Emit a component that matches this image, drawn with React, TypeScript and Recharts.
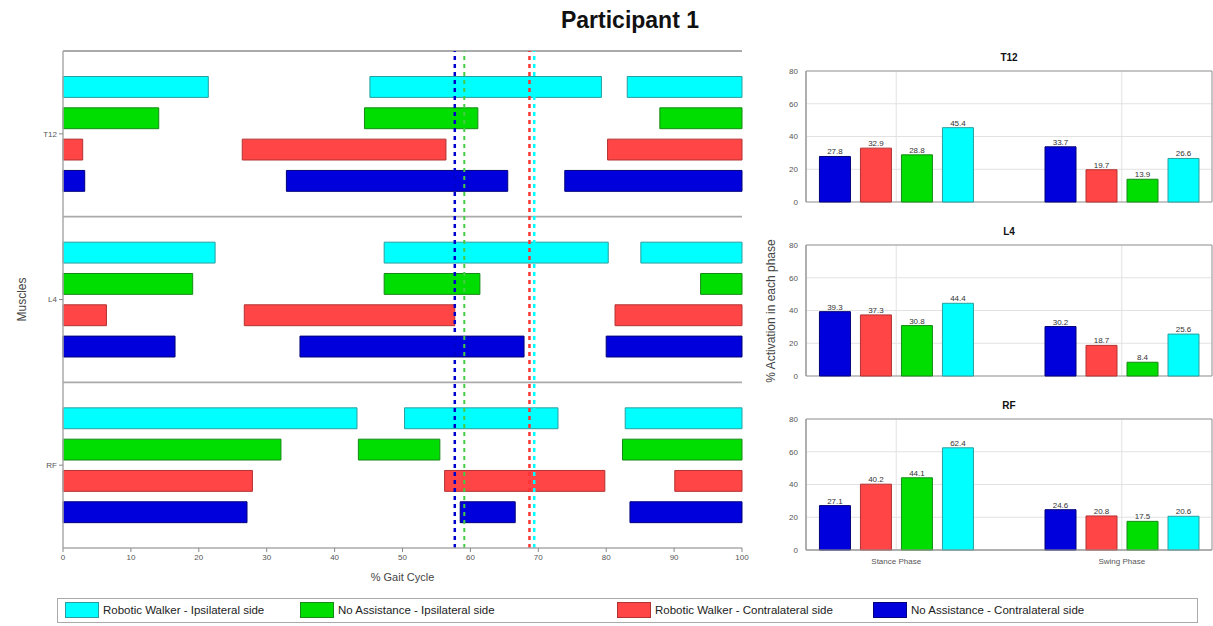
import React from 'react';
import {
  ComposedChart,
  BarChart,
  Bar,
  XAxis,
  YAxis,
  ReferenceArea,
  ReferenceLine,
  CartesianGrid,
  LabelList,
} from 'recharts';

// ---------- data ----------
const muscles = ['T12', 'L4', 'RF'];
const conditions = [
  'Robotic Walker - Ipsilateral side',
  'No Assistance - Ipsilateral side',
  'Robotic Walker - Contralateral side',
  'No Assistance - Contralateral side',
];
const phases = ['Stance Phase', 'Swing Phase'];
const gaitTicks = [0, 10, 20, 30, 40, 50, 60, 70, 80, 90, 100];
const activationTicks = [0, 20, 40, 60, 80];

// activation segments [start, end] in % gait cycle, per condition (order as `conditions`)
const t12Segments = [
  [[0, 21.4], [45.2, 79.3], [83.1, 100]],
  [[0, 14.1], [44.4, 61.1], [87.9, 100]],
  [[0, 2.9], [26.4, 56.4], [80.2, 100]],
  [[0, 3.2], [32.9, 65.5], [73.9, 100]],
];
const l4Segments = [
  [[0, 22.4], [47.3, 80.3], [85.1, 100]],
  [[0, 19.1], [47.3, 61.4], [93.9, 100]],
  [[0, 6.4], [26.7, 57.7], [81.3, 100]],
  [[0, 16.5], [34.9, 67.9], [80.0, 100]],
];
const rfSegments = [
  [[0, 43.3], [50.3, 72.9], [82.8, 100]],
  [[0, 32.1], [43.5, 55.5], [82.4, 100]],
  [[0, 27.9], [56.2, 79.8], [90.1, 100]],
  [[0, 27.1], [58.5, 66.6], [83.5, 100]],
];
// toe-off (stance/swing transition) per condition
const toeOff = [69.4, 59.1, 68.7, 57.7];

// % activation in each phase [stance, swing], per condition (order as `conditions`)
const t12Activation = [[45.4, 26.6], [28.8, 13.9], [32.9, 19.7], [27.8, 33.7]];
const l4Activation = [[44.4, 25.6], [30.8, 8.4], [37.3, 18.7], [39.3, 30.2]];
const rfActivation = [[62.4, 20.6], [44.1, 17.5], [40.2, 20.8], [27.1, 24.6]];

// ---------- styles ----------
const colors = ['#00ffff', '#00dd00', '#ff4545', '#0000dd'];
const lineColors = ['#00ffff', '#44cc44', '#ff3333', '#0000cc'];
const edges = ['#2a9e9e', '#168a16', '#b33232', '#00007a'];
const FONT = '"Liberation Sans", Arial, Helvetica, sans-serif';
const barOrder = [3, 2, 1, 0];

const allSegments = [t12Segments, l4Segments, rfSegments];

// row layout inside each muscle band (band = 1 y-unit)
const ROW_START = 0.217;
const ROW_STEP = 0.189;
const ROW_HALF = 0.063;

function rowCenter(m: number, c: number) {
  return 3 - m - (ROW_START + ROW_STEP * c);
}

function GaitChart() {
  const areas: React.ReactNode[] = [];
  allSegments.forEach((segs, m) => {
    segs.forEach((list, c) => {
      list.forEach((s, k) => {
        const yc = rowCenter(m, c);
        areas.push(
          <ReferenceArea
            key={`a-${m}-${c}-${k}`}
            x1={s[0]}
            x2={s[1]}
            y1={yc - ROW_HALF}
            y2={yc + ROW_HALF}
            fill={colors[c]}
            fillOpacity={1}
            stroke={edges[c]}
            strokeWidth={1}
            ifOverflow="visible"
          />
        );
      });
    });
  });
  const tickPos = muscles.map((_, m) => 2.5 - m);
  return (
    <ComposedChart
      width={760}
      height={600}
      data={[{ x: 0, y: 0 }]}
      margin={{ top: 51, right: 18, bottom: 22, left: 0 }}
    >
      <XAxis
        type="number"
        dataKey="x"
        domain={[0, 100]}
        ticks={gaitTicks}
        height={30}
        tick={{ fontSize: 8, fill: '#555', fontFamily: FONT }}
        tickSize={4}
        tickLine={{ stroke: '#888' }}
        axisLine={{ stroke: '#aaa', strokeWidth: 1.5 }}
        interval={0}
      />
      <YAxis
        type="number"
        dataKey="y"
        domain={[0, 3]}
        ticks={tickPos}
        width={63}
        tickFormatter={(v: number) => muscles[Math.round(2.5 - v)]}
        tick={{ fontSize: 8, fill: '#555', fontFamily: FONT }}
        tickSize={4}
        tickLine={{ stroke: '#888' }}
        axisLine={{ stroke: '#aaa', strokeWidth: 1.5 }}
        interval={0}
        label={{
          value: 'Muscles',
          angle: -90,
          position: 'insideLeft',
          offset: 22,
          style: { fontSize: 12, fill: '#444', fontFamily: FONT, textAnchor: 'middle' },
        }}
      />
      <ReferenceLine y={3} stroke="#aaa" strokeWidth={1.8} ifOverflow="visible" />
      <ReferenceLine y={2} stroke="#aaa" strokeWidth={1.8} />
      <ReferenceLine y={1} stroke="#aaa" strokeWidth={1.8} />
      {areas}
      {toeOff.map((v, c) => (
        <ReferenceLine
          key={`t-${c}`}
          x={v}
          stroke={lineColors[c]}
          strokeWidth={c === 1 ? 2 : 2.5}
          strokeDasharray="4 4"
          ifOverflow="visible"
        />
      ))}
    </ComposedChart>
  );
}

function PhaseChart({
  values,
  showX,
}: {
  values: number[][];
  showX: boolean;
}) {
  const data = phases.map((p, i) => {
    const row: Record<string, number | string> = { x: i + 1, name: p };
    conditions.forEach((_, c) => {
      row[`c${c}`] = values[c][i];
    });
    return row;
  });
  const plotH = 131;
  const bottom = showX ? 2 : 10;
  return (
    <BarChart
      width={453}
      height={plotH + 25 + bottom + (showX ? 20 : 0)}
      data={data}
      margin={{ top: 25, right: 1, bottom, left: 16 }}
      barGap={10}
    >
      <CartesianGrid stroke="#e2e2e2" strokeWidth={1} />
      <XAxis
        type="number"
        dataKey="x"
        domain={[0.6, 2.4]}
        ticks={[1, 2]}
        hide={!showX}
        height={20}
        tickFormatter={(v: number) => phases[Math.round(v) - 1]}
        tick={{ fontSize: 8, fill: '#555', fontFamily: FONT }}
        tickLine={false}
        axisLine={{ stroke: '#999' }}
        allowDataOverflow
      />
      <YAxis
        type="number"
        domain={[0, 80]}
        ticks={activationTicks}
        width={30}
        tick={{ fontSize: 8, fill: '#555', fontFamily: FONT }}
        tickLine={false}
        axisLine={{ stroke: '#999' }}
        interval={0}
      />
      <ReferenceArea
        x1={0.6}
        x2={2.4}
        y1={0}
        y2={80}
        fill="none"
        stroke="#999"
        strokeWidth={1}
        ifOverflow="visible"
      />
      {barOrder.map((c) => (
        <Bar
          key={`b-${c}`}
          dataKey={`c${c}`}
          fill={colors[c]}
          stroke={edges[c]}
          strokeWidth={1}
          barSize={31}
          isAnimationActive={false}
        >
          <LabelList
            dataKey={`c${c}`}
            position="top"
            offset={2}
            formatter={(v: number) => Number(v).toFixed(1)}
            style={{ fontSize: 8, fill: '#333', fontFamily: FONT }}
          />
        </Bar>
      ))}
    </BarChart>
  );
}

const subTitles = [
  { text: muscles[0], top: 52 },
  { text: muscles[1], top: 226 },
  { text: muscles[2], top: 400 },
];

export default function App() {
  return (
    <div
      style={{
        position: 'absolute',
        left: 0,
        top: 0,
        width: 1213,
        height: 626,
        background: '#fff',
        fontFamily: FONT,
        overflow: 'hidden',
      }}
    >
      <div
        style={{
          position: 'absolute',
          left: 0,
          width: 1260,
          top: 7,
          textAlign: 'center',
          fontWeight: 'bold',
          fontSize: 23,
          color: '#111',
        }}
      >
        Participant 1
      </div>

      <div style={{ position: 'absolute', left: 0, top: 0 }}>
        <GaitChart />
      </div>
      <div
        style={{
          position: 'absolute',
          left: 63,
          width: 679,
          top: 571,
          textAlign: 'center',
          fontSize: 11,
          color: '#444',
        }}
      >
        % Gait Cycle
      </div>

      <div style={{ position: 'absolute', left: 760, top: 46 }}>
        <PhaseChart values={t12Activation} showX={false} />
      </div>
      <div style={{ position: 'absolute', left: 760, top: 220 }}>
        <PhaseChart values={l4Activation} showX={false} />
      </div>
      <div style={{ position: 'absolute', left: 760, top: 394 }}>
        <PhaseChart values={rfActivation} showX={true} />
      </div>
      {subTitles.map((s) => (
        <div
          key={s.text}
          style={{
            position: 'absolute',
            left: 806,
            width: 406,
            top: s.top,
            textAlign: 'center',
            fontWeight: 'bold',
            fontSize: 10,
            color: '#111',
          }}
        >
          {s.text}
        </div>
      ))}
      <svg
        style={{ position: 'absolute', left: 0, top: 0, pointerEvents: 'none' }}
        width={1213}
        height={626}
      >
        <text
          x={775}
          y={311}
          transform="rotate(-90 775 311)"
          textAnchor="middle"
          fontSize={12}
          fill="#444"
          fontFamily={FONT}
        >
          % Activation in each phase
        </text>
      </svg>

      <div
        style={{
          position: 'absolute',
          left: 57,
          top: 598,
          width: 1141,
          height: 25,
          border: '1px solid #aaa',
          boxSizing: 'border-box',
        }}
      />
      {conditions.map((name, c) => {
        const xs = [65, 300, 617, 873];
        return (
          <div
            key={name}
            style={{
              position: 'absolute',
              left: xs[c],
              top: 601,
              height: 18,
              display: 'flex',
              alignItems: 'center',
              fontSize: 11.5,
              color: '#222',
              whiteSpace: 'nowrap',
            }}
          >
            <span
              style={{
                display: 'inline-block',
                width: 34,
                height: 16,
                background: colors[c],
                border: `1px solid ${edges[c]}`,
                boxSizing: 'border-box',
                marginRight: 4,
              }}
            />
            {name}
          </div>
        );
      })}
    </div>
  );
}
